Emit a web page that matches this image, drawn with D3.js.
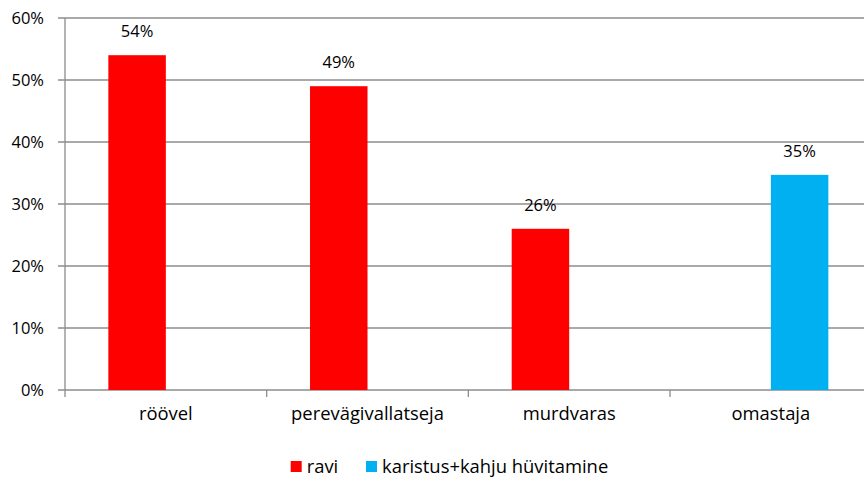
<!DOCTYPE html>
<html><head><meta charset="utf-8">
<script src="https://cdn.jsdelivr.net/npm/d3@7"></script>
<style>body{margin:0;background:#fff}svg{display:block}text{font-family:"Open Sans",sans-serif;fill:#000}</style>
</head><body>
<script>
const categories = ["röövel", "perevägivallatseja", "murdvaras", "omastaja"];
const seriesNames = ["ravi", "karistus+kahju hüvitamine"];
const raviValues = [0.54, 0.49, 0.26, null];
const karistusValues = [null, null, null, 0.347];
const seriesColors = ["#FF0000", "#00B0F0"];
const yTicks = [0, 0.1, 0.2, 0.3, 0.4, 0.5, 0.6];

(function () {
const W = 864, H = 478, FS = 16.5, FT = 18.4;
const svg = d3.select("body").append("svg").attr("width", W).attr("height", H);
const mLeft = 65, plotRight = 871.7, mTop = 18, mBottom = 390;

const x0 = d3.scaleBand().domain(categories).range([mLeft, plotRight]).padding(0);
const x1 = d3.scaleBand().domain(seriesNames).range([0, x0.bandwidth()]).paddingInner(0).paddingOuter(0.754);
const y = d3.scaleLinear().domain([0, 0.6]).range([mBottom, mTop]);

const grid = "#8c8c8c";
svg.append("g").selectAll("line").data(yTicks).join("line")
  .attr("x1", mLeft - 7).attr("x2", plotRight)
  .attr("y1", d => y(d)).attr("y2", d => y(d))
  .attr("stroke", grid).attr("stroke-width", 1.3);
svg.append("line").attr("x1", mLeft).attr("x2", mLeft).attr("y1", mTop).attr("y2", mBottom)
  .attr("stroke", grid).attr("stroke-width", 1.3);
svg.append("g").selectAll("text").data(yTicks).join("text")
  .attr("x", 44).attr("y", d => y(d)).attr("dy", "0.36em").attr("text-anchor", "end")
  .attr("font-size", FS).text(d => d3.format(".0%")(d));
const xTickPos = categories.map(c => x0(c)).concat([x0(categories[3]) + x0.bandwidth()]);
svg.append("g").selectAll("line").data(xTickPos).join("line")
  .attr("x1", d => d).attr("x2", d => d).attr("y1", mBottom).attr("y2", mBottom + 7)
  .attr("stroke", grid).attr("stroke-width", 1.3);
svg.append("g").selectAll("text").data(categories).join("text")
  .attr("x", d => x0(d) + x0.bandwidth() / 2).attr("y", 420).attr("text-anchor", "middle")
  .attr("font-size", FT).text(d => d);

const seriesData = [raviValues, karistusValues];
seriesData.forEach((vals, si) => {
  const pts = categories.map((c, i) => ({c, v: vals[i]})).filter(d => d.v != null);
  const g = svg.append("g");
  g.selectAll("rect").data(pts).join("rect")
    .attr("x", d => x0(d.c) + x1(seriesNames[si])).attr("width", x1.bandwidth())
    .attr("y", d => y(d.v)).attr("height", d => y(0) - y(d.v))
    .attr("fill", seriesColors[si]);
  g.selectAll("text").data(pts).join("text")
    .attr("x", d => x0(d.c) + x1(seriesNames[si]) + x1.bandwidth() / 2)
    .attr("y", d => y(d.v) - 18).attr("text-anchor", "middle").attr("font-size", FS)
    .text(d => d3.format(".0%")(d.v));
});

const legendX = [290.7, 366];
const lg = svg.append("g");
seriesNames.forEach((s, i) => {
  lg.append("rect").attr("x", legendX[i]).attr("y", 461).attr("width", 11).attr("height", 11).attr("fill", seriesColors[i]);
  lg.append("text").attr("x", legendX[i] + 16).attr("y", 472.5).attr("font-size", FT).text(s);
});
})();
</script>
</body></html>
